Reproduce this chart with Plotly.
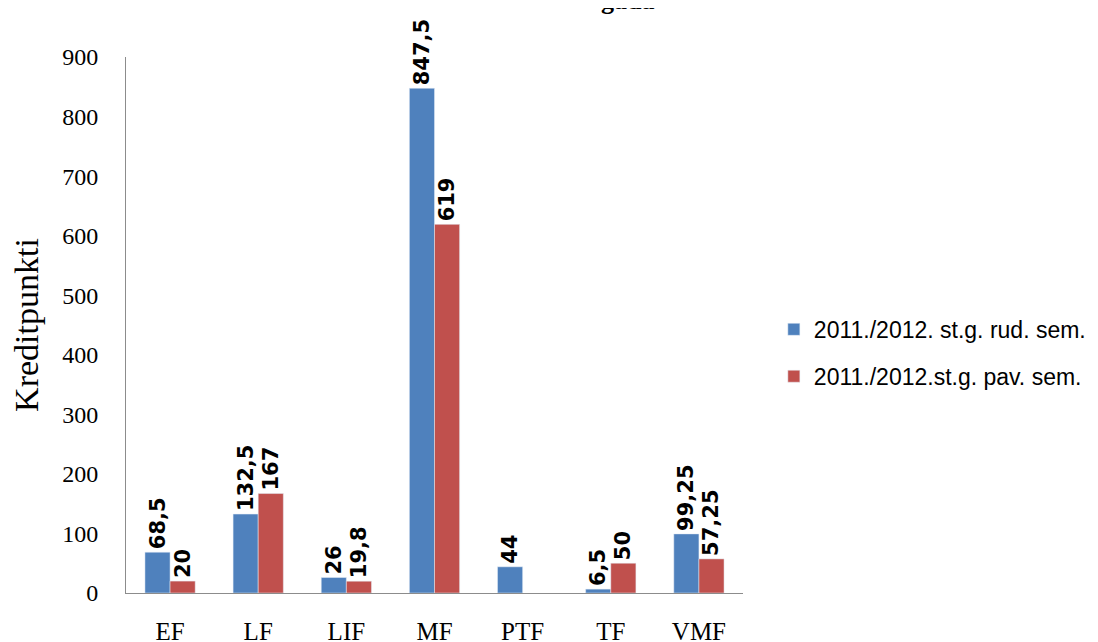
import plotly.graph_objects as go

# fakultātes un kredītpunkti
fakultates = ["EF", "LF", "LIF", "MF", "PTF", "TF", "VMF"]
rud_sem = [68.5, 132.5, 26, 847.5, 44, 6.5, 99.25]
pav_sem = [20, 167, 19.8, 619, None, 50, 57.25]
rud_labels = ["68,5", "132,5", "26", "847,5", "44", "6,5", "99,25"]
pav_labels = ["20", "167", "19,8", "619", "", "50", "57,25"]
y_ticks = [0, 100, 200, 300, 400, 500, 600, 700, 800, 900]

fig = go.Figure()

fig.add_trace(go.Bar(
    x=fakultates, y=rud_sem,
    name="2011./2012. st.g. rud. sem.", legendgroup="rud",
    marker=dict(color="#4F81BD"),
    text=rud_labels, textposition="outside", textangle=-90,
    textfont=dict(family="DejaVu Sans", size=21, color="black", weight="bold"),
    cliponaxis=False,
))
fig.add_trace(go.Bar(
    x=fakultates, y=pav_sem,
    name="2011./2012.st.g. pav. sem.", legendgroup="pav",
    marker=dict(color="#C0504D"),
    text=pav_labels, textposition="outside", textangle=-90,
    textfont=dict(family="DejaVu Sans", size=21, color="black", weight="bold"),
    cliponaxis=False,
))

# lapai ir 8px malas, tāpēc augstums un atkāpes par to samazinātas
fig.update_layout(
    width=1098, height=634,
    margin=dict(l=118, r=363, t=49, b=49),
    plot_bgcolor="white", paper_bgcolor="white",
    barmode="group", bargap=0.43, bargroupgap=0,
    font=dict(family="Liberation Serif", color="black"),
    legend=dict(
        x=1.05, y=0.448, yanchor="middle", xanchor="left",
        font=dict(family="Liberation Sans", size=23, color="black"),
        tracegroupgap=14,
    ),
    uniformtext=dict(minsize=21, mode="show"),
)

fig.update_xaxes(
    automargin=False,
    showline=True, linecolor="#8c8c8c", linewidth=1,
    ticks="", tickfont=dict(family="Liberation Serif", size=25),
    ticklabelstandoff=16,
)
fig.update_yaxes(
    automargin=False,
    range=[0, 900], tickvals=y_ticks,
    showgrid=False, zeroline=False,
    showline=True, linecolor="#8c8c8c", linewidth=1,
    ticks="", ticklabelstandoff=22,
    tickfont=dict(family="Liberation Serif", size=24),
    title=dict(text="Kreditpunkti", font=dict(family="Liberation Serif", size=34), standoff=27),
)

# virsraksta apakšējā daļa, kas redzama attēla augšā
fig.add_annotation(
    text="gadā", xref="paper", yref="paper",
    x=0.812, y=1.0745, xanchor="center", yanchor="bottom",
    showarrow=False, font=dict(family="Liberation Serif", size=26, weight="bold"),
)

fig.write_html("out.html")
